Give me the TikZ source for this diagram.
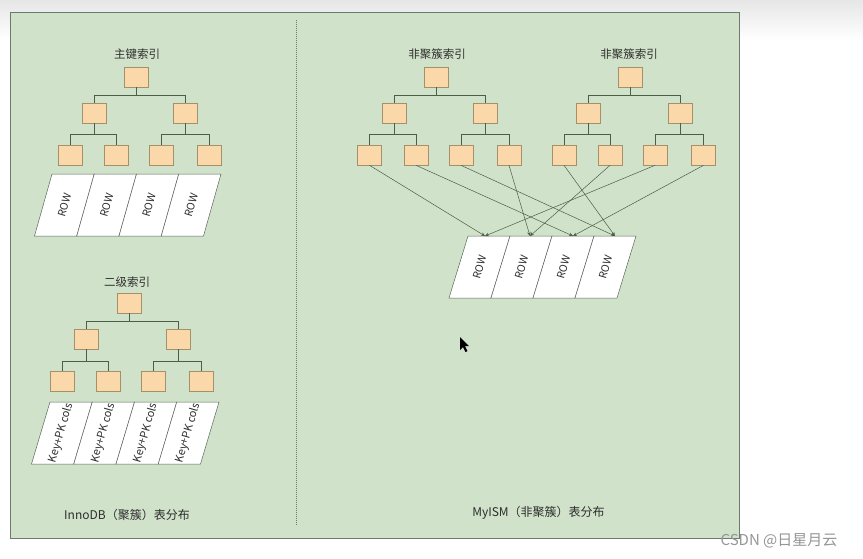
\documentclass[tikz,border=0pt]{standalone}
\usepackage{fontspec}
\newfontfamily\cjk{Noto Sans CJK SC}
\usepackage{tikz}
\usetikzlibrary{arrows.meta}
\definecolor{panelgreen}{RGB}{208,226,201}
\definecolor{framecol}{RGB}{110,120,110}
\definecolor{topgray}{RGB}{230,230,230}
\definecolor{boxfill}{RGB}{250,216,170}
\definecolor{boxline}{RGB}{165,145,105}
\definecolor{tiecol}{RGB}{75,95,70}
\definecolor{cellline}{RGB}{90,100,90}
\definecolor{inkgray}{RGB}{45,45,45}
\definecolor{wmgray}{RGB}{150,150,150}

\begin{document}
\begin{tikzpicture}[x=1pt,y=-1pt,
  idx/.style={draw=boxline,fill=boxfill,line width=0.6pt,minimum width=24pt,minimum height=20pt,inner sep=0pt},
  ttl/.style={text=inkgray,font=\cjk\fontsize{11.5}{13}\selectfont},
  tie/.style={draw=tiecol,line width=0.7pt},
  ptr/.style={draw=tiecol,line width=0.5pt,-{Stealth[length=4pt,width=3.5pt]}},
  cell/.style={draw=cellline,fill=white,line width=0.5pt},
  celltxt/.style={rotate=74,text=inkgray,font=\cjk\fontsize{10.5}{12}\selectfont,inner sep=0pt}]
  \useasboundingbox (0,0) rectangle (863,558);
  \fill[white] (0,0) rectangle (863,558);
  \shade[top color=topgray,bottom color=white] (0,0) rectangle (863,40);
  \draw[draw=framecol,fill=panelgreen,line width=0.8pt] (10.5,12) rectangle (739,538);
  \draw[framecol,dash pattern=on 1pt off 1pt,line width=0.6pt] (296,20) -- (296,525);

  % InnoDB: primary key tree
  \node[ttl] (pkt) at (137,54) {主键索引};
  \node[idx] (pkr) at (136.5,77) {};
  \node[idx] (pka) at (94.5,113) {};
  \node[idx] (pkb) at (185,113) {};
  \node[idx] (pk1) at (70,155) {};
  \node[idx] (pk2) at (116,155) {};
  \node[idx] (pk3) at (161,155) {};
  \node[idx] (pk4) at (209,155) {};
  \draw[tie] (pkr.south) -- ++(0,8) -| (pka.north) (pkr.south) -- ++(0,8) -| (pkb.north);
  \draw[tie] (pka.south) -- ++(0,11) -| (pk1.north) (pka.south) -- ++(0,11) -| (pk2.north);
  \draw[tie] (pkb.south) -- ++(0,11) -| (pk3.north) (pkb.south) -- ++(0,11) -| (pk4.north);
  \draw[cell] (52,174) -- (94.25,174) -- (76.75,236) -- (34.5,236) -- cycle;
  \draw[cell] (94.25,174) -- (136.5,174) -- (119,236) -- (76.75,236) -- cycle;
  \draw[cell] (136.5,174) -- (178.75,174) -- (161.25,236) -- (119,236) -- cycle;
  \draw[cell] (178.75,174) -- (221,174) -- (203.5,236) -- (161.25,236) -- cycle;
  \node[celltxt] (pkrow1) at (64.4,205) {ROW};
  \node[celltxt] (pkrow2) at (106.6,205) {ROW};
  \node[celltxt] (pkrow3) at (148.9,205) {ROW};
  \node[celltxt] (pkrow4) at (191.1,205) {ROW};

  % InnoDB: secondary tree
  \node[ttl] (skt) at (127,282) {二级索引};
  \node[idx] (skr) at (129.5,303) {};
  \node[idx] (ska) at (86,339) {};
  \node[idx] (skb) at (178,339) {};
  \node[idx] (sk1) at (62,381) {};
  \node[idx] (sk2) at (108,381) {};
  \node[idx] (sk3) at (153,381) {};
  \node[idx] (sk4) at (201,381) {};
  \draw[tie] (skr.south) -- ++(0,8) -| (ska.north) (skr.south) -- ++(0,8) -| (skb.north);
  \draw[tie] (ska.south) -- ++(0,12) -| (sk1.north) (ska.south) -- ++(0,12) -| (sk2.north);
  \draw[tie] (skb.south) -- ++(0,12) -| (sk3.north) (skb.south) -- ++(0,12) -| (sk4.north);
  \draw[cell] (50,402) -- (92.25,402) -- (73.75,464) -- (31.5,464) -- cycle;
  \draw[cell] (92.25,402) -- (134.5,402) -- (116,464) -- (73.75,464) -- cycle;
  \draw[cell] (134.5,402) -- (176.75,402) -- (158.25,464) -- (116,464) -- cycle;
  \draw[cell] (176.75,402) -- (219,402) -- (200.5,464) -- (158.25,464) -- cycle;
  \node[celltxt,font=\cjk\fontsize{11}{12}\selectfont] (skcol1) at (61.4,433) {Key+PK cols};
  \node[celltxt,font=\cjk\fontsize{11}{12}\selectfont] (skcol2) at (103.6,433) {Key+PK cols};
  \node[celltxt,font=\cjk\fontsize{11}{12}\selectfont] (skcol3) at (145.9,433) {Key+PK cols};
  \node[celltxt,font=\cjk\fontsize{11}{12}\selectfont] (skcol4) at (188.1,433) {Key+PK cols};
  \node[ttl,font=\cjk\fontsize{12}{14}\selectfont] (inno) at (127,515) {InnoDB（聚簇）表分布};

  % MyISM: two non-clustered trees
  \node[ttl] (mat) at (437,54) {非聚簇索引};
  \node[idx] (mar) at (436.5,77) {};
  \node[idx] (maa) at (394.5,113) {};
  \node[idx] (mab) at (485,113) {};
  \node[idx] (ma1) at (369.5,155) {};
  \node[idx] (ma2) at (416,155) {};
  \node[idx] (ma3) at (461,155) {};
  \node[idx] (ma4) at (509,155) {};
  \draw[tie] (mar.south) -- ++(0,8) -| (maa.north) (mar.south) -- ++(0,8) -| (mab.north);
  \draw[tie] (maa.south) -- ++(0,11) -| (ma1.north) (maa.south) -- ++(0,11) -| (ma2.north);
  \draw[tie] (mab.south) -- ++(0,11) -| (ma3.north) (mab.south) -- ++(0,11) -| (ma4.north);

  \node[ttl] (mbt) at (629,54) {非聚簇索引};
  \node[idx] (mbr) at (630.5,77) {};
  \node[idx] (mba) at (588,113) {};
  \node[idx] (mbb) at (680,113) {};
  \node[idx] (mb1) at (564,155) {};
  \node[idx] (mb2) at (610,155) {};
  \node[idx] (mb3) at (655,155) {};
  \node[idx] (mb4) at (703.5,155) {};
  \draw[tie] (mbr.south) -- ++(0,8) -| (mba.north) (mbr.south) -- ++(0,8) -| (mbb.north);
  \draw[tie] (mba.south) -- ++(0,11) -| (mb1.north) (mba.south) -- ++(0,11) -| (mb2.north);
  \draw[tie] (mbb.south) -- ++(0,11) -| (mb3.north) (mbb.south) -- ++(0,11) -| (mb4.north);

  \draw[cell] (468,236) -- (510,236) -- (491,298) -- (449,298) -- cycle;
  \draw[cell] (510,236) -- (552,236) -- (533,298) -- (491,298) -- cycle;
  \draw[cell] (552,236) -- (594,236) -- (575,298) -- (533,298) -- cycle;
  \draw[cell] (594,236) -- (636,236) -- (617,298) -- (575,298) -- cycle;
  \node[celltxt] (myrow1) at (479.5,267) {ROW};
  \node[celltxt] (myrow2) at (521.5,267) {ROW};
  \node[celltxt] (myrow3) at (563.5,267) {ROW};
  \node[celltxt] (myrow4) at (605.5,267) {ROW};
  \coordinate (hit1) at (485,236);
  \coordinate (hit2) at (530,236);
  \coordinate (hit3) at (573,236);
  \coordinate (hit4) at (615,236);
  \draw[ptr] (ma1.south) -- (hit1);
  \draw[ptr] (ma2.south) -- (hit3);
  \draw[ptr] (ma3.south) -- (hit4);
  \draw[ptr] (ma4.south) -- (hit2);
  \draw[ptr] (mb1.south) -- (hit4);
  \draw[ptr] (mb2.south) -- (hit2);
  \draw[ptr] (mb3.south) -- (hit1);
  \draw[ptr] (mb4.south) -- (hit3);
  \node[ttl,font=\cjk\fontsize{12}{14}\selectfont] (myism) at (538.5,513) {MyISM（非聚簇）表分布};

  % pointer and watermark
  \fill[black] (460,337) -- ++(0,13) -- ++(3,-3) -- ++(2.5,5) -- ++(2,-1) -- ++(-2.5,-4.8) -- ++(4,0) -- cycle;
  \node[text=wmgray,font=\cjk\fontsize{15}{16}\selectfont] (mark) at (779,541) {CSDN @日星月云};
\end{tikzpicture}
\end{document}
